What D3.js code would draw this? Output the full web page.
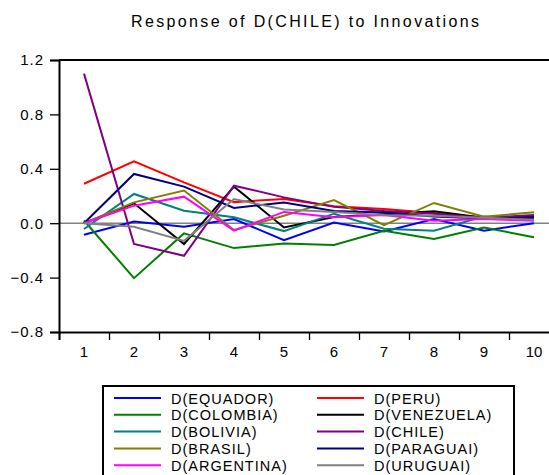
<!DOCTYPE html>
<html>
<head>
<meta charset="utf-8">
<script src="https://cdn.jsdelivr.net/npm/d3@7/dist/d3.min.js"></script>
<style>
  html, body { margin: 0; padding: 0; background: #fff; overflow: hidden; }
  svg { display: block; font-family: Arial, "Liberation Sans", sans-serif; }
</style>
</head>
<body>
<script>
// Impulse responses of D(CHILE), periods 1..10
const periods = [1, 2, 3, 4, 5, 6, 7, 8, 9, 10];
const yTicks = [-0.8, -0.4, 0.0, 0.4, 0.8, 1.2];

const equador   = [-0.085, 0.013, -0.026, 0.031, -0.125, 0.005, -0.060, 0.030, -0.055, 0.000];
const peru      = [0.290, 0.455, 0.300, 0.155, 0.178, 0.125, 0.105, 0.075, 0.040, 0.050];
const colombia  = [0.020, -0.404, -0.075, -0.183, -0.150, -0.160, -0.055, -0.116, -0.031, -0.104];
const venezuela = [0.000, 0.146, -0.153, 0.269, -0.031, 0.045, 0.065, 0.087, 0.040, 0.043];
const bolivia   = [-0.043, 0.215, 0.092, 0.043, -0.058, 0.070, -0.040, -0.055, 0.050, 0.030];
const chile     = [1.100, -0.153, -0.240, 0.276, 0.190, 0.120, 0.090, 0.070, 0.040, 0.060];
const brasil    = [0.000, 0.153, 0.240, -0.050, 0.055, 0.170, -0.015, 0.149, 0.048, 0.080];
const paraguai  = [0.000, 0.362, 0.269, 0.112, 0.153, 0.090, 0.078, 0.050, 0.035, 0.040];
const argentina = [0.000, 0.129, 0.195, -0.055, 0.083, 0.043, 0.060, 0.018, 0.030, 0.018];
const uruguai   = [0.000, -0.026, -0.130, 0.178, 0.100, 0.082, 0.058, 0.055, 0.040, 0.025];

const seriesNames = ["D(EQUADOR)", "D(PERU)", "D(COLOMBIA)", "D(VENEZUELA)", "D(BOLIVIA)",
                     "D(CHILE)", "D(BRASIL)", "D(PARAGUAI)", "D(ARGENTINA)", "D(URUGUAI)"];
const seriesValues = [equador, peru, colombia, venezuela, bolivia, chile, brasil, paraguai, argentina, uruguai];
const seriesColors = ["#0000ff", "#ff0000", "#008000", "#000000", "#008080",
                      "#800080", "#808000", "#000080", "#ff00ff", "#808080"];

const W = 549, H = 475;
const svg = d3.select("body").append("svg").attr("width", W).attr("height", H);

const plotLeft = 59, plotRight = 559, plotTop = 60, plotBottom = 332;
const x = d3.scaleLinear().domain([0.5, 10.5]).range([plotLeft, plotRight]);
const y = d3.scaleLinear().domain([-0.8, 1.2]).range([plotBottom, plotTop]);

// Title
svg.append("text")
  .attr("x", 305).attr("y", 27)
  .attr("text-anchor", "middle")
  .attr("font-size", 16)
  .attr("textLength", 348).attr("lengthAdjust", "spacing")
  .text("Response of D(CHILE) to Innovations");

// Zero reference line
svg.append("line")
  .attr("x1", plotLeft).attr("x2", plotRight)
  .attr("y1", y(0)).attr("y2", y(0))
  .attr("stroke", "#808080").attr("stroke-width", 1.5);

// Series
const line = d3.line().x((d, i) => x(periods[i])).y(d => y(d));
seriesValues.forEach((vals, k) => {
  svg.append("path")
    .datum(vals)
    .attr("d", line)
    .attr("fill", "none")
    .attr("stroke", seriesColors[k])
    .attr("stroke-width", 2)
    .attr("stroke-linejoin", "miter");
});

// Frame: top border
svg.append("line")
  .attr("x1", plotLeft).attr("x2", plotRight)
  .attr("y1", plotTop).attr("y2", plotTop)
  .attr("stroke", "#000").attr("stroke-width", 2);

// Left axis
const yAxis = d3.axisLeft(y).tickValues(yTicks).tickFormat(d3.format(".1f")).tickSize(9).tickPadding(6);
const gy = svg.append("g").attr("transform", `translate(${plotLeft},0)`).call(yAxis);
gy.select(".domain").attr("stroke-width", 2);
gy.selectAll(".tick line").attr("stroke-width", 1.3);
gy.selectAll(".tick text").attr("font-size", 15).attr("letter-spacing", 1).attr("font-family", "Arial, 'Liberation Sans', sans-serif");

// Bottom axis: ticks on period boundaries, labels on periods
const boundaries = d3.range(0.5, 10.5, 1);
const xAxisTicks = d3.axisBottom(x).tickValues(boundaries).tickFormat("").tickSize(8);
const gx = svg.append("g").attr("transform", `translate(0,${plotBottom})`).call(xAxisTicks);
gx.select(".domain").attr("stroke-width", 2);
gx.selectAll(".tick line").attr("stroke-width", 1.3);

svg.append("g").selectAll("text")
  .data(periods).join("text")
  .attr("x", d => x(d)).attr("y", 357)
  .attr("text-anchor", "middle")
  .attr("font-size", 15)
  .text(d => d);

// Legend
const legend = svg.append("g");
legend.append("rect")
  .attr("x", 103).attr("y", 386).attr("width", 411).attr("height", 100)
  .attr("fill", "none").attr("stroke", "#000").attr("stroke-width", 2);

seriesNames.forEach((name, k) => {
  const col = k % 2, row = Math.floor(k / 2);
  const lx = col === 0 ? 114 : 317;
  const ty = 398 + row * 16.8;
  legend.append("line")
    .attr("x1", lx).attr("x2", lx + 47)
    .attr("y1", ty).attr("y2", ty)
    .attr("stroke", seriesColors[k]).attr("stroke-width", 2);
  legend.append("text")
    .attr("x", lx + 57).attr("y", ty + 5.5)
    .attr("font-size", 14.5)
    .attr("letter-spacing", 1)
    .text(name);
});
</script>
</body>
</html>
